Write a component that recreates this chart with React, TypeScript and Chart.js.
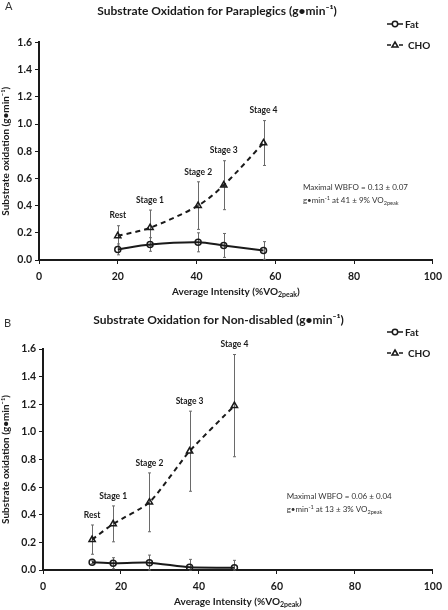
import React, { useEffect, useRef } from "react";
import { Chart, registerables } from "chart.js";

Chart.register(...registerables);

// ---------- data ----------
const stageLabels = ["Rest", "Stage 1", "Stage 2", "Stage 3", "Stage 4"];
const xTickStep = 20;
const yTickStep = 0.2;

// Panel A: paraplegics
const paraIntensity = [20.0, 28.2, 40.4, 46.9, 57.0];
const paraFat = [0.078, 0.114, 0.13, 0.107, 0.07];
const paraFatSD = [0.04, 0.05, 0.07, 0.088, 0.065];
const paraCHO = [0.177, 0.237, 0.4, 0.55, 0.86];
const paraCHOSD = [0.075, 0.13, 0.175, 0.18, 0.165];

// Panel B: non-disabled
const ndIntensity = [12.6, 18.0, 27.3, 37.6, 49.1];
const ndFat = [0.056, 0.049, 0.053, 0.02, 0.017];
const ndFatSD = [0.01, 0.04, 0.055, 0.057, 0.053];
const ndCHO = [0.22, 0.334, 0.49, 0.86, 1.19];
const ndCHOSD = [0.106, 0.13, 0.213, 0.29, 0.37];

const FONT = "Lato, 'DejaVu Sans', sans-serif";
const INK = "#1a1a1a";

type Seg = { t: string; k?: "sup" | "sub" };

type PanelCfg = {
  letter: string;
  title: string;
  x: number[];
  fat: number[];
  fatSD: number[];
  cho: number[];
  choSD: number[];
  note1: string;
  note2: Seg[];
  noteX: number;
  noteY: number;
  pad: { left: number; right: number };
  yWidth: number;
  xHeight: number;
  titlePad: { top: number; bottom: number };
  tension: number;
  legendTop: number;
  xTitleOffset: number;
  letterPos: [number, number];
  height: number;
};

function drawRich(ctx: CanvasRenderingContext2D, segs: Seg[], x: number, y: number, size: number, weight: string, align: "left" | "center") {
  const fontFor = (k?: string) => `${weight} ${k ? size * 0.7 : size}px ${FONT}`;
  let total = 0;
  for (const s of segs) {
    ctx.font = fontFor(s.k);
    total += ctx.measureText(s.t).width;
  }
  let cx = align === "center" ? x - total / 2 : x;
  ctx.textAlign = "left";
  ctx.textBaseline = "middle";
  for (const s of segs) {
    ctx.font = fontFor(s.k);
    const dy = s.k === "sup" ? -size * 0.3 : s.k === "sub" ? size * 0.3 : 0;
    ctx.fillText(s.t, cx, y + dy);
    cx += ctx.measureText(s.t).width;
  }
}

const xTitleSegs: Seg[] = [{ t: "Average Intensity (%VO" }, { t: "2peak", k: "sub" }, { t: ")" }];

function makePlugin(p: PanelCfg) {
  return {
    id: "extras" + p.letter,
    beforeDatasetsDraw(chart: any) {
      const ctx = chart.ctx as CanvasRenderingContext2D;
      const xs = chart.scales.x;
      const ys = chart.scales.y;
      ctx.save();
      ctx.strokeStyle = "#6a6a6a";
      ctx.lineWidth = 1;
      const bars = (vals: number[], sds: number[]) => {
        vals.forEach((v, i) => {
          const px = Math.round(xs.getPixelForValue(p.x[i])) + 0.5;
          const top = ys.getPixelForValue(v + sds[i]);
          const bot = ys.getPixelForValue(Math.max(0, v - sds[i]));
          ctx.beginPath();
          ctx.moveTo(px, top);
          ctx.lineTo(px, bot);
          ctx.moveTo(px - 1.5, top);
          ctx.lineTo(px + 1.5, top);
          ctx.moveTo(px - 1.5, bot);
          ctx.lineTo(px + 1.5, bot);
          ctx.stroke();
        });
      };
      bars(p.cho, p.choSD);
      bars(p.fat, p.fatSD);
      ctx.restore();
    },
    afterDraw(chart: any) {
      const ctx = chart.ctx as CanvasRenderingContext2D;
      const xs = chart.scales.x;
      const ys = chart.scales.y;
      const area = chart.chartArea;
      ctx.save();
      ctx.fillStyle = INK;
      // stage labels
      ctx.font = `bold 8.5px ${FONT}`;
      ctx.textAlign = "center";
      ctx.textBaseline = "middle";
      stageLabels.forEach((s, i) => {
        const px = xs.getPixelForValue(p.x[i]);
        const py = ys.getPixelForValue(p.cho[i] + p.choSD[i]) - 10;
        ctx.fillText(s, px, py);
      });
      // note
      ctx.fillStyle = "#333";
      ctx.font = `8px ${FONT}`;
      ctx.textAlign = "left";
      const nx = xs.getPixelForValue(p.noteX);
      const ny = ys.getPixelForValue(p.noteY);
      ctx.fillText(p.note1, nx, ny);
      drawRich(ctx, p.note2, nx, ny + 13, 8, "normal", "left");
      // x title
      ctx.fillStyle = INK;
      drawRich(ctx, xTitleSegs, (area.left + area.right) / 2, area.bottom + p.xTitleOffset, 10, "bold", "center");
      // panel letter
      ctx.font = `11px ${FONT}`;
      ctx.fillStyle = "#333";
      ctx.textAlign = "left";
      ctx.fillText(p.letter, p.letterPos[0], p.letterPos[1]);
      // legend
      const lx = 387;
      const l1 = p.legendTop;
      const l2 = p.legendTop + 21;
      ctx.strokeStyle = INK;
      ctx.lineWidth = 1.5;
      ctx.beginPath();
      ctx.moveTo(lx, l1);
      ctx.lineTo(lx + 16, l1);
      ctx.stroke();
      ctx.beginPath();
      ctx.arc(lx + 8, l1, 2.7, 0, Math.PI * 2);
      ctx.fillStyle = "#fff";
      ctx.fill();
      ctx.stroke();
      ctx.beginPath();
      ctx.moveTo(lx, l2);
      ctx.lineTo(lx + 4, l2);
      ctx.moveTo(lx + 12, l2);
      ctx.lineTo(lx + 16, l2);
      ctx.stroke();
      ctx.beginPath();
      ctx.moveTo(lx + 8, l2 - 3);
      ctx.lineTo(lx + 11, l2 + 2);
      ctx.lineTo(lx + 5, l2 + 2);
      ctx.closePath();
      ctx.fill();
      ctx.stroke();
      ctx.fillStyle = INK;
      ctx.font = `bold 10px ${FONT}`;
      ctx.textBaseline = "middle";
      ctx.fillText("Fat", lx + 18, l1 + 0.5);
      ctx.fillText("CHO", lx + 21, l2 + 0.5);
      ctx.restore();
    },
  };
}

function ChartPanel({ p }: { p: PanelCfg }) {
  const ref = useRef<HTMLCanvasElement | null>(null);
  useEffect(() => {
    if (!ref.current) return;
    const pts = (vals: number[]) => vals.map((v, i) => ({ x: p.x[i], y: v }));
    const axisGrid = {
      display: true,
      drawOnChartArea: false,
      drawTicks: true,
      tickLength: 4,
      color: INK,
      lineWidth: 1,
    };
    const chart = new Chart(ref.current, {
      type: "line",
      data: {
        datasets: [
          {
            label: "Fat",
            data: pts(p.fat),
            borderColor: INK,
            borderWidth: 2,
            pointStyle: "circle",
            pointRadius: 3,
            pointBackgroundColor: "rgba(255,255,255,0)",
            pointBorderColor: INK,
            pointBorderWidth: 1.5,
            tension: p.tension,
            fill: false,
          },
          {
            label: "CHO",
            data: pts(p.cho),
            borderColor: INK,
            borderWidth: 2,
            borderDash: [5, 4],
            pointStyle: "triangle",
            pointRadius: 3.6,
            pointBackgroundColor: "rgba(255,255,255,0)",
            pointBorderColor: INK,
            pointBorderWidth: 1.5,
            tension: p.tension,
            fill: false,
          },
        ],
      },
      options: {
        animation: false,
        responsive: false,
        devicePixelRatio: 1,
        layout: { padding: { left: p.pad.left, right: p.pad.right, top: 0, bottom: 0 } },
        plugins: {
          legend: { display: false },
          tooltip: { enabled: false },
          title: {
            display: true,
            text: p.title,
            color: INK,
            font: { family: FONT, size: 12, weight: "bold" },
            padding: p.titlePad,
          },
        },
        scales: {
          x: {
            type: "linear",
            min: 0,
            max: 100,
            ticks: {
              stepSize: xTickStep,
              color: INK,
              padding: 6,
              font: { family: FONT, size: 10.5, weight: "bold" },
            },
            grid: axisGrid,
            border: { display: true, color: INK, width: 2 },
            afterFit: (s: any) => {
              s.height = p.xHeight;
            },
          },
          y: {
            type: "linear",
            min: 0,
            max: 1.6,
            ticks: {
              stepSize: yTickStep,
              color: INK,
              padding: 3,
              font: { family: FONT, size: 10.5, weight: "bold" },
              callback: (v: any) => Number(v).toFixed(1),
            },
            title: {
              display: true,
              text: "Substrate oxidation (g•min⁻¹)",
              color: INK,
              font: { family: FONT, size: 10, weight: "bold" },
              padding: { top: 0, bottom: 0 },
            },
            grid: axisGrid,
            border: { display: true, color: INK, width: 2 },
            afterFit: (s: any) => {
              s.width = p.yWidth;
            },
          },
        },
      } as any,
      plugins: [makePlugin(p)],
    });
    return () => chart.destroy();
  }, [p]);
  return <canvas ref={ref} width={448} height={p.height} style={{ display: "block", width: 448, height: p.height }} />;
}

const panelA: PanelCfg = {
  letter: "A",
  title: "Substrate Oxidation for Paraplegics (g•min⁻¹)",
  x: paraIntensity,
  fat: paraFat,
  fatSD: paraFatSD,
  cho: paraCHO,
  choSD: paraCHOSD,
  note1: "Maximal WBFO = 0.13 ± 0.07",
  note2: [{ t: "g•min" }, { t: "-1", k: "sup" }, { t: " at 41 ± 9% VO" }, { t: "2peak", k: "sub" }],
  noteX: 67,
  noteY: 0.53,
  pad: { left: 0, right: 14 },
  yWidth: 39,
  xHeight: 40,
  titlePad: { top: 4, bottom: 24 },
  tension: 0.3,
  legendTop: 24,
  xTitleOffset: 32,
  letterPos: [5, 6],
  height: 300,
};

const panelB: PanelCfg = {
  letter: "B",
  title: "Substrate Oxidation for Non-disabled (g•min⁻¹)",
  x: ndIntensity,
  fat: ndFat,
  fatSD: ndFatSD,
  cho: ndCHO,
  choSD: ndCHOSD,
  note1: "Maximal WBFO = 0.06 ± 0.04",
  note2: [{ t: "g•min" }, { t: "-1", k: "sup" }, { t: " at 13 ± 3% VO" }, { t: "2peak", k: "sub" }],
  noteX: 62.5,
  noteY: 0.53,
  pad: { left: 0, right: 11 },
  yWidth: 43,
  xHeight: 40,
  titlePad: { top: 13, bottom: 21.6 },
  tension: 0.2,
  legendTop: 32,
  xTitleOffset: 32,
  letterPos: [4, 23],
  height: 310,
};

export default function App() {
  return (
    <div style={{ position: "absolute", left: 0, top: 0, width: 448, height: 610, background: "#fff" }}>
      <ChartPanel p={panelA} />
      <ChartPanel p={panelB} />
    </div>
  );
}
